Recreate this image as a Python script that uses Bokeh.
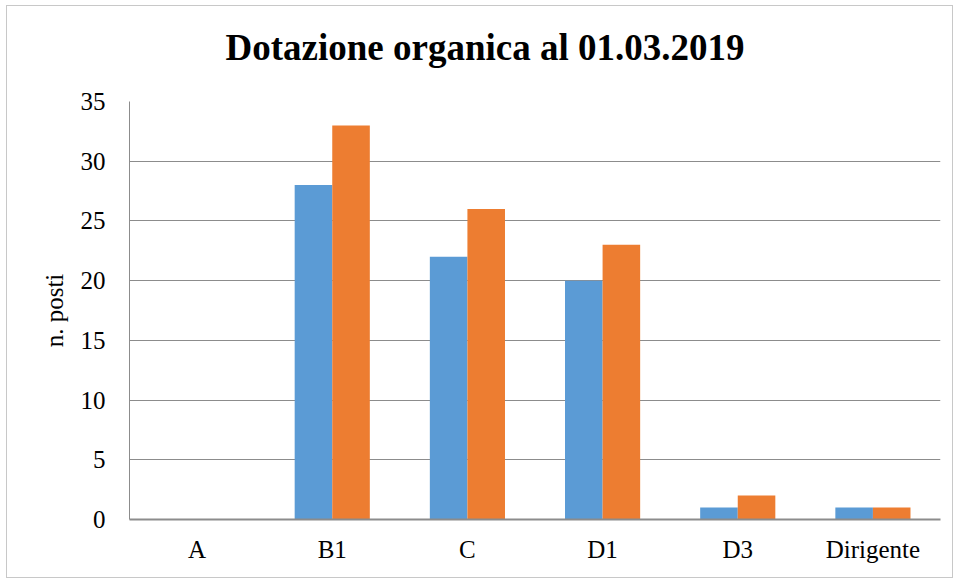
from bokeh.plotting import figure
from bokeh.models import ColumnDataSource, FactorRange, Range1d, Title
from bokeh.transform import dodge
from bokeh.embed import file_html
from bokeh.resources import INLINE

categories = ["A", "B1", "C", "D1", "D3", "Dirigente"]
serie_blu = [0, 28, 22, 20, 1, 1]
serie_arancio = [0, 33, 26, 23, 2, 1]
y_ticks = [0, 5, 10, 15, 20, 25, 30, 35]

source = ColumnDataSource(dict(cat=categories, blu=serie_blu, arancio=serie_arancio))

FONT = "Liberation Serif"

p = figure(x_range=FactorRange(*categories), y_range=Range1d(0, 35),
           width=947, height=573, output_backend="svg", toolbar_location=None,
           min_border_left=122, min_border_right=14, min_border_top=95, min_border_bottom=60)
p.styles = {"border": "1px solid #c8c8c8", "box-sizing": "border-box",
            "margin": "5px 0px 0px 6px"}

p.vbar(x=dodge("cat", -0.139, range=p.x_range), top="blu", width=0.278, source=source,
       fill_color="#5B9BD5", line_color=None)
p.vbar(x=dodge("cat", 0.139, range=p.x_range), top="arancio", width=0.278, source=source,
       fill_color="#ED7D31", line_color=None)

p.outline_line_color = None
p.xgrid.grid_line_color = None
p.ygrid.grid_line_color = "#8c8c8c"
p.ygrid.grid_line_width = 1
p.ygrid.ticker = y_ticks

p.yaxis.ticker = y_ticks
p.yaxis.axis_line_color = "#8c8c8c"
p.yaxis.major_tick_line_color = None
p.yaxis.minor_tick_line_color = None
p.yaxis.major_tick_out = 0
p.yaxis.major_tick_in = 0
p.yaxis.major_label_standoff = 24
p.yaxis.major_label_text_font = FONT
p.yaxis.major_label_text_font_size = "25px"
p.yaxis.major_label_text_color = "#000000"
p.yaxis.axis_label = "n. posti"
p.yaxis.axis_label_text_font = FONT
p.yaxis.axis_label_text_font_size = "25px"
p.yaxis.axis_label_text_font_style = "normal"
p.yaxis.axis_label_text_color = "#000000"
p.yaxis.axis_label_standoff = 10

p.xaxis.axis_line_color = "#8c8c8c"
p.xaxis.axis_line_width = 2
p.xaxis.major_tick_line_color = None
p.xaxis.minor_tick_line_color = None
p.xaxis.major_tick_out = 0
p.xaxis.major_tick_in = 0
p.xaxis.major_label_standoff = 16
p.xaxis.major_label_text_font = FONT
p.xaxis.major_label_text_font_size = "25px"
p.xaxis.major_label_text_color = "#000000"

spacer = Title(text=" ", text_font_size="15px", standoff=0)
p.add_layout(spacer, "above")
title = Title(text="Dotazione organica al 01.03.2019", align="left", offset=96,
              text_font=FONT, text_font_size="37px", text_font_style="bold",
              text_color="#000000", standoff=30)
p.add_layout(title, "above")

open("out.html", "w").write(file_html(p, INLINE))
